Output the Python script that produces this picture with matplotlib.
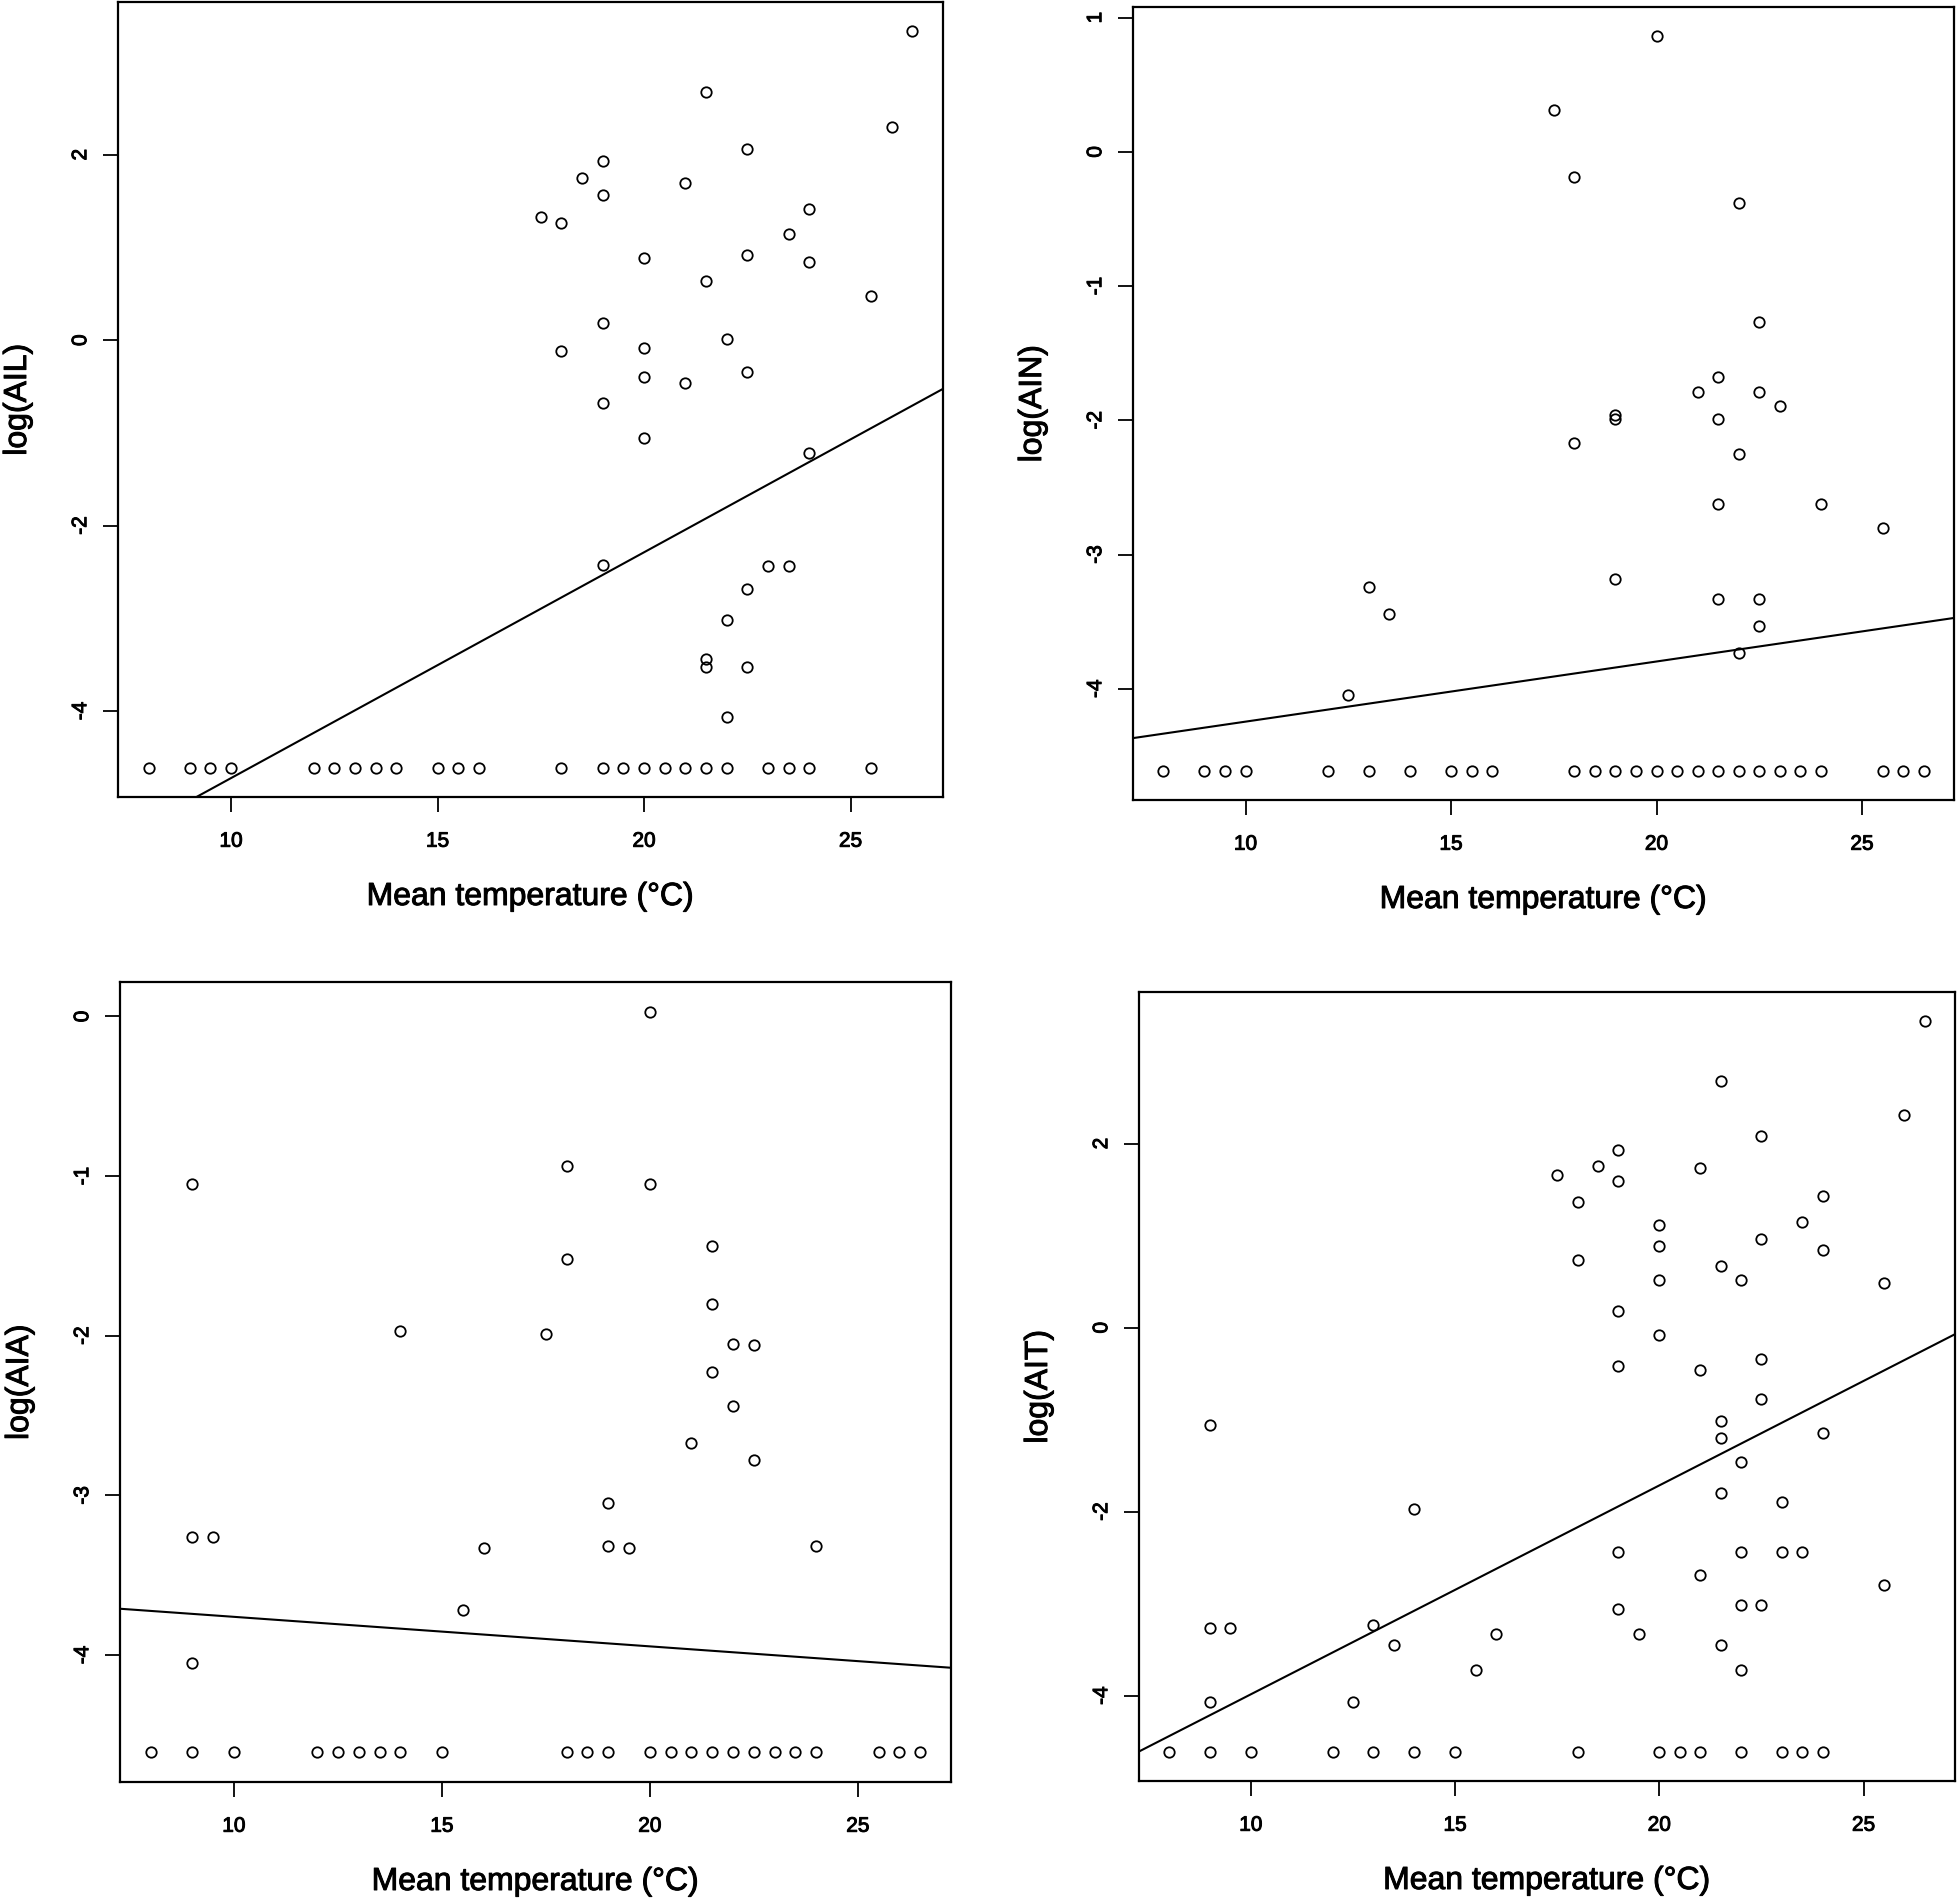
import numpy as np
import matplotlib
matplotlib.use("Agg")
import matplotlib.pyplot as plt
import matplotlib.patheffects as pe

plt.rcParams["font.family"] = ["Liberation Sans", "DejaVu Sans"]
plt.rcParams["axes.unicode_minus"] = False

# log(AIL) against mean temperature
ail_temp = [26.5, 21.5, 26, 22.5, 19, 18.5, 21, 19, 24, 17.5, 18, 23.5, 20, 22.5, 24,
            21.5, 25.5, 19, 22, 18, 20, 20, 21, 22.5, 19, 20, 24, 19, 23, 23.5,
            22.5, 22, 21.5, 21.5, 22.5, 22,
            8, 9, 9.5, 10, 12, 12.5, 13, 13.5, 14, 15, 15.5, 16, 18, 19, 19.5, 20,
            20.5, 21, 21.5, 22, 23, 23.5, 24, 25.5]
ail_log = [3.33, 2.68, 2.30, 2.06, 1.93, 1.75, 1.70, 1.57, 1.41, 1.33, 1.26, 1.15, 0.89, 0.92, 0.84,
           0.64, 0.48, 0.18, 0.01, -0.12, -0.08, -0.40, -0.46, -0.34, -0.68, -1.05, -1.22, -2.43, -2.44, -2.44,
           -2.68, -3.02, -3.44, -3.53, -3.53, -4.06,
           -4.61, -4.61, -4.61, -4.61, -4.61, -4.61, -4.61, -4.61, -4.61, -4.61, -4.61, -4.61, -4.61, -4.61, -4.61, -4.61,
           -4.61, -4.61, -4.61, -4.61, -4.61, -4.61, -4.61, -4.61]

# log(AIN)
ain_temp = [20, 17.5, 18, 22, 22.5, 21.5, 21, 22.5, 23, 19, 19, 21.5, 18, 22, 21.5,
            24, 25.5, 19, 13, 13.5, 21.5, 22.5, 22.5, 22, 12.5,
            8, 9, 9.5, 10, 12, 13, 14, 15, 15.5, 16, 18, 18.5, 19, 19.5, 20, 20.5,
            21, 21.5, 22, 22.5, 23, 23.5, 24, 25.5, 26, 26.5]
ain_log = [0.86, 0.31, -0.19, -0.38, -1.27, -1.68, -1.79, -1.79, -1.89, -1.96, -1.99, -1.99, -2.17, -2.25, -2.62,
           -2.62, -2.80, -3.18, -3.24, -3.44, -3.33, -3.33, -3.53, -3.73, -4.05,
           -4.61, -4.61, -4.61, -4.61, -4.61, -4.61, -4.61, -4.61, -4.61, -4.61, -4.61, -4.61, -4.61, -4.61, -4.61, -4.61,
           -4.61, -4.61, -4.61, -4.61, -4.61, -4.61, -4.61, -4.61, -4.61, -4.61]

# log(AIA)
aia_temp = [20, 18, 9, 20, 21.5, 18, 21.5, 14, 17.5, 22, 22.5, 21.5, 22, 21, 22.5,
            19, 9, 9.5, 16, 19, 19.5, 24, 15.5, 9,
            8, 9, 10, 12, 12.5, 13, 13.5, 14, 15, 18, 18.5, 19, 20, 20.5, 21, 21.5,
            22, 22.5, 23, 23.5, 24, 25.5, 26, 26.5]
aia_log = [0.03, -0.94, -1.05, -1.05, -1.44, -1.52, -1.80, -1.97, -1.99, -2.05, -2.06, -2.23, -2.44, -2.67, -2.78,
           -3.05, -3.26, -3.26, -3.33, -3.32, -3.33, -3.32, -3.72, -4.05,
           -4.61, -4.61, -4.61, -4.61, -4.61, -4.61, -4.61, -4.61, -4.61, -4.61, -4.61, -4.61, -4.61, -4.61, -4.61, -4.61,
           -4.61, -4.61, -4.61, -4.61, -4.61, -4.61, -4.61, -4.61]

# log(AIT)
ait_temp = [26.5, 21.5, 26, 22.5, 19, 18.5, 21, 17.5, 19, 24, 18, 23.5, 20, 20, 22.5,
            24, 18, 21.5, 20, 22, 25.5, 19, 20, 22.5, 19, 21, 22.5, 9, 21.5, 21.5,
            24, 22, 21.5, 23, 14, 19, 22, 23, 23.5, 21, 25.5, 19, 22, 22.5, 9,
            9.5, 13, 16, 19.5, 13.5, 21.5, 15.5, 22, 9, 12.5,
            8, 9, 10, 12, 13, 14, 15, 18, 20, 20.5, 21, 22, 23, 23.5, 24]
ait_log = [3.33, 2.68, 2.31, 2.08, 1.93, 1.76, 1.74, 1.66, 1.59, 1.43, 1.37, 1.15, 1.11, 0.89, 0.96,
           0.84, 0.73, 0.67, 0.52, 0.52, 0.49, 0.18, -0.08, -0.34, -0.42, -0.46, -0.78, -1.06, -1.02, -1.20,
           -1.14, -1.46, -1.80, -1.90, -1.97, -2.44, -2.44, -2.44, -2.44, -2.69, -2.80, -3.06, -3.02, -3.02, -3.27,
           -3.27, -3.23, -3.33, -3.33, -3.45, -3.45, -3.72, -3.72, -4.07, -4.07,
           -4.61, -4.61, -4.61, -4.61, -4.61, -4.61, -4.61, -4.61, -4.61, -4.61, -4.61, -4.61, -4.61, -4.61, -4.61]

# fitted lines (intercept, slope)
ail_fit = (-7.158, 0.2435)
ain_fit = (-4.693, 0.0448)
aia_fit = (-3.576, -0.0185)
ait_fit = (-6.255, 0.227)

x_ticks = [10, 15, 20, 25]

W, H = 1958, 1902
fig = plt.figure(figsize=(W / 100, H / 100), dpi=100)

# the scanned original has slightly heavy text
heavy = [pe.withStroke(linewidth=0.7, foreground="black")]


def draw_panel(box, temp, logv, ylabel, fit, yticks):
    # box = left, top, right, bottom in pixels
    l, t, r, b = box
    ax = fig.add_axes([l / W, 1 - b / H, (r - l) / W, (b - t) / H])
    ax.plot(temp, logv, linestyle="none", marker="o", markersize=7.5,
            markerfacecolor="none", markeredgecolor="black", markeredgewidth=1.3)

    # R style 4% axis padding
    xpad = 0.04 * (max(temp) - min(temp))
    ypad = 0.04 * (max(logv) - min(logv))
    ax.set_xlim(min(temp) - xpad, max(temp) + xpad)
    ax.set_ylim(min(logv) - ypad, max(logv) + ypad)

    xs = np.array(ax.get_xlim())
    ax.plot(xs, fit[0] + fit[1] * xs, color="black", lw=1.5)

    ax.set_xticks(x_ticks)
    ax.set_yticks(yticks)
    ax.set_yticklabels([str(v) for v in yticks], rotation=90, va="center")
    ax.tick_params(direction="out", length=11, width=1.3, labelsize=15, color="black")
    ax.tick_params(axis="x", pad=14)
    ax.tick_params(axis="y", pad=9)
    for s in ax.spines.values():
        s.set_linewidth(1.6)

    ax.set_xlabel("Mean temperature (\u00b0C)", fontsize=23, va="center")
    ax.xaxis.set_label_coords(0.5, -100 / (b - t))
    ax.set_ylabel(ylabel, fontsize=23, va="center")
    ax.yaxis.set_label_coords(-100 / (r - l), 0.5)

    for txt in ax.get_xticklabels() + ax.get_yticklabels():
        txt.set_path_effects(heavy)
    ax.xaxis.label.set_path_effects(heavy)
    ax.yaxis.label.set_path_effects(heavy)
    return ax


draw_panel((118, 2, 943, 797), ail_temp, ail_log, "log(AIL)", ail_fit, [-4, -2, 0, 2])
draw_panel((1133, 7, 1954, 800), ain_temp, ain_log, "log(AIN)", ain_fit, [-4, -3, -2, -1, 0, 1])
draw_panel((120, 982, 951, 1782), aia_temp, aia_log, "log(AIA)", aia_fit, [-4, -3, -2, -1, 0])
draw_panel((1139, 992, 1955, 1781), ait_temp, ait_log, "log(AIT)", ait_fit, [-4, -2, 0, 2])

fig.savefig("out.png", dpi=100)
